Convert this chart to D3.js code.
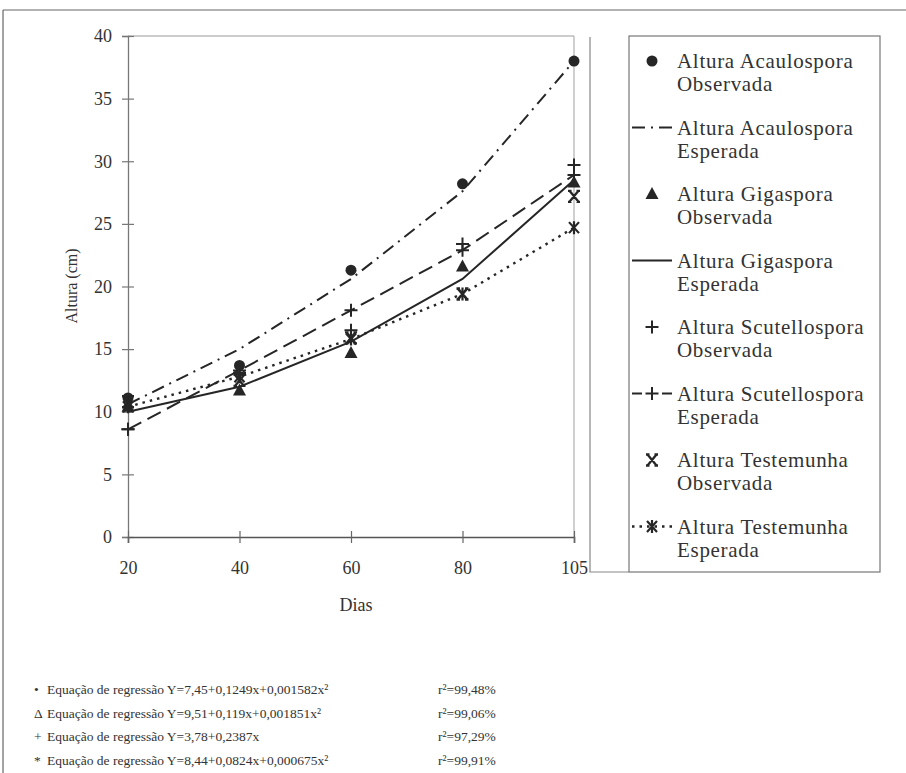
<!DOCTYPE html>
<html>
<head>
<meta charset="utf-8">
<script src="https://cdn.jsdelivr.net/npm/d3@7"></script>
<style>
  html, body { margin: 0; padding: 0; background: #ffffff; }
  svg { display: block; }
  svg text { font-family: "Liberation Serif", "DejaVu Serif", serif; }
</style>
</head>
<body>
<svg id="chart" width="906" height="773"></svg>
<script>
// Dias de avaliação (eixo X, categórico)
const dias = ["20", "40", "60", "80", "105"];
const yTicks = [0, 5, 10, 15, 20, 25, 30, 35, 40];

// Alturas observadas e esperadas (cm)
const acaulosporaObs = [11.1, 13.7, 21.3, 28.2, 38.0];
const acaulosporaEsp = [10.6, 15.0, 20.6, 27.6, 38.0];
const gigasporaObs   = [10.4, 11.7, 14.7, 21.6, 28.3];
const gigasporaEsp   = [10.0, 12.0, 15.6, 20.6, 28.5];
const scutelloObs    = [8.6, 13.1, 16.5, 23.4, 29.7];
const scutelloEsp    = [8.6, 13.3, 18.1, 22.9, 28.9];
const testemunhaObs  = [10.8, 12.5, 15.9, 19.4, 27.2];
const testemunhaEsp  = [10.4, 12.8, 15.8, 19.4, 24.7];

// Rótulos da legenda
const legendLabels = [
  ["Altura Acaulospora", "Observada"],
  ["Altura Acaulospora", "Esperada"],
  ["Altura Gigaspora", "Observada"],
  ["Altura Gigaspora", "Esperada"],
  ["Altura Scutellospora", "Observada"],
  ["Altura Scutellospora", "Esperada"],
  ["Altura Testemunha", "Observada"],
  ["Altura Testemunha", "Esperada"]
];

// Equações de regressão
const eqSymbols = ["•", "Δ", "+", "*"];
const eqTexts = [
  "Equação de regressão Y=7,45+0,1249x+0,001582x²",
  "Equação de regressão Y=9,51+0,119x+0,001851x²",
  "Equação de regressão Y=3,78+0,2387x",
  "Equação de regressão Y=8,44+0,0824x+0,000675x²"
];
const eqR2 = ["r²=99,48%", "r²=99,06%", "r²=97,29%", "r²=99,91%"];

const ink = "#262626";
const textInk = "#333";
const svg = d3.select("#chart");

// Moldura externa
svg.append("line").attr("x1", 3).attr("y1", 10).attr("x2", 906).attr("y2", 10)
  .attr("stroke", "#666").attr("stroke-width", 1.2);
svg.append("line").attr("x1", 3).attr("y1", 10).attr("x2", 3).attr("y2", 773)
  .attr("stroke", "#666").attr("stroke-width", 1.2);

const plot = { left: 128, right: 574, top: 36, bottom: 537 };
const x = d3.scalePoint().domain(dias).range([plot.left, plot.right]);
const y = d3.scaleLinear().domain([0, 40]).range([plot.bottom, plot.top]);

// Bordas da área de plotagem
svg.append("line").attr("x1", plot.left).attr("x2", plot.right)
  .attr("y1", plot.top).attr("y2", plot.top).attr("stroke", "#9a9a9a").attr("stroke-width", 1.2);
svg.append("line").attr("x1", plot.right).attr("x2", plot.right)
  .attr("y1", plot.top).attr("y2", plot.bottom).attr("stroke", "#b0b0b0").attr("stroke-width", 1.2);

// Eixo Y
const gy = svg.append("g").attr("transform", `translate(${plot.left},0)`)
  .call(d3.axisLeft(y).tickValues(yTicks).tickSize(6).tickPadding(10).tickFormat(d3.format("d")));
gy.attr("font-family", null);
gy.select(".domain").attr("stroke", "#777").attr("stroke-width", 1.3);
gy.selectAll(".tick line").attr("x1", -6).attr("x2", 6).attr("stroke", "#777").attr("stroke-width", 1.2);
gy.selectAll(".tick text").attr("font-size", 18).attr("fill", textInk);

// Eixo X
const gx = svg.append("g").attr("transform", `translate(0,${plot.bottom})`)
  .call(d3.axisBottom(x).tickSize(6).tickPadding(18));
gx.attr("font-family", null);
gx.select(".domain").attr("stroke", "#555").attr("stroke-width", 1.6);
gx.selectAll(".tick line").attr("y1", -6).attr("y2", 6).attr("stroke", "#666").attr("stroke-width", 1.2);
gx.selectAll(".tick text").attr("font-size", 18).attr("fill", textInk);

// Títulos dos eixos
svg.append("text").attr("x", (plot.left + plot.right) / 2 + 5).attr("y", 611)
  .attr("text-anchor", "middle").attr("font-size", 18).attr("fill", textInk).text("Dias");
svg.append("text").attr("transform", "translate(77,286) rotate(-90)")
  .attr("text-anchor", "middle").attr("font-size", 16).attr("fill", textInk).text("Altura (cm)");

// Geradores de símbolos
function drawMarker(g, type, cx, cy) {
  if (type === "circle") {
    g.append("circle").attr("cx", cx).attr("cy", cy).attr("r", 5.5).attr("fill", ink);
  } else if (type === "triangle") {
    g.append("path").attr("d", `M${cx},${cy - 7}L${cx + 6.5},${cy + 5}L${cx - 6.5},${cy + 5}Z`).attr("fill", ink);
  } else if (type === "plus") {
    g.append("path").attr("d", `M${cx - 6.5},${cy}H${cx + 6.5}M${cx},${cy - 6.5}V${cy + 6.5}`)
      .attr("stroke", ink).attr("stroke-width", 2).attr("fill", "none");
  } else if (type === "x") {
    g.append("path").attr("d",
      `M${cx - 4.5},${cy - 5.5}L${cx + 4.5},${cy + 5.5}M${cx + 4.5},${cy - 5.5}L${cx - 4.5},${cy + 5.5}` +
      `M${cx - 6},${cy - 5.5}H${cx - 2.5}M${cx + 2.5},${cy - 5.5}H${cx + 6}` +
      `M${cx - 6},${cy + 5.5}H${cx - 2.5}M${cx + 2.5},${cy + 5.5}H${cx + 6}`)
      .attr("stroke", ink).attr("stroke-width", 2.3).attr("fill", "none");
  } else if (type === "star") {
    g.append("path").attr("d",
      `M${cx - 5},${cy - 5.5}L${cx + 5},${cy + 5.5}M${cx + 5},${cy - 5.5}L${cx - 5},${cy + 5.5}` +
      `M${cx},${cy - 6.5}V${cy + 6.5}`)
      .attr("stroke", ink).attr("stroke-width", 2.2).attr("fill", "none");
  }
}

// Definição das séries
const series = [
  { values: acaulosporaObs, line: null, marker: "circle" },
  { values: acaulosporaEsp, line: "13 6 2 6", marker: null, legendDash: "13 6 2 6" },
  { values: gigasporaObs, line: null, marker: "triangle" },
  { values: gigasporaEsp, line: "solid", marker: null },
  { values: scutelloObs, line: null, marker: "plus" },
  { values: scutelloEsp, line: "15 7", marker: "plus", legendDash: "10 20" },
  { values: testemunhaObs, line: null, marker: "x" },
  { values: testemunhaEsp, line: "2.5 5", marker: "star", legendDash: "2.5 5" }
];

const lineGen = d3.line().x((d, i) => x(dias[i])).y(d => y(d));
const marks = svg.append("g");

// Linhas primeiro, depois os marcadores
series.forEach(s => {
  if (!s.line) return;
  marks.append("path").datum(s.values).attr("d", lineGen)
    .attr("fill", "none").attr("stroke", ink)
    .attr("stroke-width", s.line === "2.5 5" ? 2.4 : 2)
    .attr("stroke-dasharray", s.line === "solid" ? null : s.line);
});
series.forEach(s => {
  if (!s.marker) return;
  s.values.forEach((v, i) => drawMarker(marks, s.marker, x(dias[i]), y(v)));
});

// Legenda
const leg = { left: 629, right: 880, top: 36, bottom: 572 };
svg.append("rect").attr("x", leg.left).attr("y", leg.top)
  .attr("width", leg.right - leg.left).attr("height", leg.bottom - leg.top)
  .attr("fill", "none").attr("stroke", "#777").attr("stroke-width", 1.2);
svg.append("path").attr("d", `M590,37V572H${leg.left}`)
  .attr("fill", "none").attr("stroke", "#888").attr("stroke-width", 1.2);

const lg = svg.append("g");
series.forEach((s, i) => {
  const cy = 61 + i * 66.5;
  if (s.line) {
    lg.append("line").attr("x1", 632).attr("x2", 672).attr("y1", cy).attr("y2", cy)
      .attr("stroke", ink).attr("stroke-width", s.line === "2.5 5" ? 2.4 : 2)
      .attr("stroke-dasharray", s.line === "solid" ? null : s.legendDash);
  }
  if (s.marker) drawMarker(lg, s.marker, 652, cy);
  const t = lg.append("text").attr("x", 677).attr("y", cy + 7).attr("font-size", 21)
    .attr("letter-spacing", 0.7).attr("fill", textInk);
  t.append("tspan").attr("x", 677).text(legendLabels[i][0]);
  t.append("tspan").attr("x", 677).attr("dy", 23).text(legendLabels[i][1]);
});

// Bloco das equações
const eq = svg.append("g").attr("font-size", 13.5).attr("fill", textInk);
eqTexts.forEach((txt, i) => {
  const by = 694 + i * 23.5;
  eq.append("text").attr("x", 34).attr("y", by).text(eqSymbols[i]);
  eq.append("text").attr("x", 47).attr("y", by).text(txt);
  eq.append("text").attr("x", 438).attr("y", by).text(eqR2[i]);
});
</script>
</body>
</html>
